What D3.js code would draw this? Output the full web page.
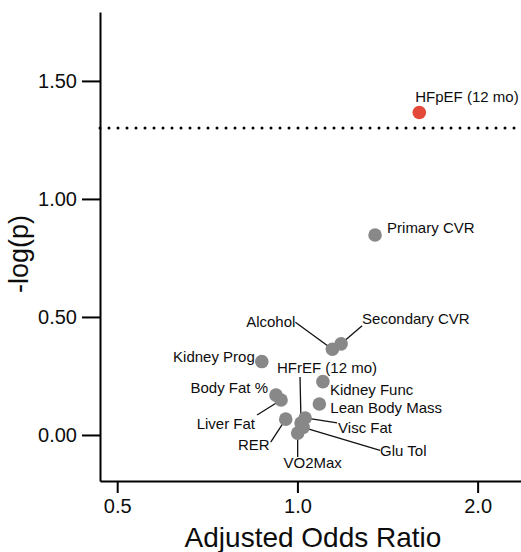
<!DOCTYPE html>
<html>
<head>
<meta charset="utf-8">
<script src="https://cdn.jsdelivr.net/npm/d3@7"></script>
<style>
  body { margin: 0; background: #fff; }
  svg { display: block; font-family: "Liberation Sans", Arial, Helvetica, sans-serif; }
</style>
</head>
<body>
<div id="chart"></div>
<script>
// outcomes, adjusted odds ratio and -log10(p)
const outcomes = ["HFpEF (12 mo)", "Primary CVR", "Secondary CVR", "Alcohol", "Kidney Prog",
    "HFrEF (12 mo)", "Kidney Func", "Lean Body Mass", "Body Fat %", "Liver Fat", "RER",
    "Visc Fat", "Glu Tol", "VO2Max"];
const oddsRatios = [1.598, 1.348, 1.183, 1.144, 0.872, 1.014, 1.103, 1.088, 0.921, 0.939, 0.956,
    1.030, 1.022, 1.001];
const negLogP = [1.366, 0.847, 0.386, 0.363, 0.311, 0.051, 0.226, 0.131, 0.169, 0.148, 0.067,
    0.072, 0.032, 0.008];
const significant = [true, false, false, false, false, false, false, false, false, false, false,
    false, false, false];

const xTicks = [0.5, 1.0, 2.0];
const yTicks = [0, 0.5, 1.0, 1.5];
const threshold = -Math.log10(0.05);

// label placement (pixel offsets from the dot), segment start offsets
const labelLayout = [
    { dx: -4, dy: -11, anchor: "start" },
    { dx: 12, dy: -2, anchor: "start" },
    { dx: 21, dy: -20, anchor: "start", sx: 21, sy: -18 },
    { dx: -37, dy: -22, anchor: "end", sx: -37, sy: -27 },
    { dx: -7, dy: 0, anchor: "end" },
    { dx: -24, dy: -50, anchor: "start", sx: -1, sy: -46 },
    { dx: 7, dy: 13, anchor: "start" },
    { dx: 11, dy: 9, anchor: "start" },
    { dx: -8, dy: -2, anchor: "end" },
    { dx: -26, dy: 29, anchor: "end", sx: -24, sy: 15 },
    { dx: -16, dy: 31, anchor: "end", sx: -15, sy: 23 },
    { dx: 33, dy: 15, anchor: "start", sx: 32, sy: 5 },
    { dx: 77, dy: 29, anchor: "start", sx: 77, sy: 23 },
    { dx: 15, dy: 35, anchor: "middle", sx: 0, sy: 24 }
];

const data = outcomes.map((name, i) => ({
    name: name,
    or: oddsRatios[i],
    p: negLogP[i],
    sig: significant[i],
    lab: labelLayout[i]
}));

const margin = { top: 12, right: 0, bottom: 71, left: 100 };
const width = 521 - margin.left - margin.right;
const height = 552 - margin.top - margin.bottom;

const svg = d3.select("#chart").append("svg")
    .attr("width", width + margin.left + margin.right)
    .attr("height", height + margin.top + margin.bottom)
    .append("g")
    .attr("transform", `translate(${margin.left},${margin.top})`);

const x = d3.scaleLog()
    .base(2)
    .domain([0.468, 2.363])
    .range([0, width]);

const y = d3.scaleLinear()
    .domain([-0.195, 1.792])
    .range([height, 0]);

// significance threshold
svg.append("line")
    .attr("x1", 0)
    .attr("x2", width)
    .attr("y1", y(threshold))
    .attr("y2", y(threshold))
    .attr("stroke", "#000")
    .attr("stroke-width", 3)
    .attr("stroke-linecap", "round")
    .attr("stroke-dasharray", "0 9");

// connector segments, under the dots
svg.selectAll("line.seg")
    .data(data.filter(d => d.lab.sx !== undefined))
    .enter()
    .append("line")
    .attr("class", "seg")
    .attr("x1", d => x(d.or) + d.lab.sx)
    .attr("y1", d => y(d.p) + d.lab.sy)
    .attr("x2", d => x(d.or))
    .attr("y2", d => y(d.p))
    .attr("stroke", "#111")
    .attr("stroke-width", 1.3);

svg.selectAll("circle")
    .data(data)
    .enter()
    .append("circle")
    .attr("cx", d => x(d.or))
    .attr("cy", d => y(d.p))
    .attr("r", 6.8)
    .attr("fill", d => d.sig ? "#e4493a" : "#888888");

svg.selectAll("text.lab")
    .data(data)
    .enter()
    .append("text")
    .attr("class", "lab")
    .attr("x", d => x(d.or) + d.lab.dx)
    .attr("y", d => y(d.p) + d.lab.dy)
    .attr("text-anchor", d => d.lab.anchor)
    .style("font-size", "15px")
    .style("fill", "#0d0d0d")
    .text(d => d.name);

// axes
const xAxis = svg.append("g")
    .attr("transform", `translate(0,${height})`)
    .call(d3.axisBottom(x).tickValues(xTicks).tickFormat(d3.format(".1f"))
        .tickSizeOuter(0).tickSizeInner(12).tickPadding(6));

const yAxis = svg.append("g")
    .call(d3.axisLeft(y).tickValues(yTicks).tickFormat(d3.format(".2f"))
        .tickSizeOuter(0).tickSizeInner(18).tickPadding(5));

[xAxis, yAxis].forEach(g => {
    g.select(".domain").attr("stroke", "#000").attr("stroke-width", 2);
    g.selectAll(".tick line").attr("stroke", "#000").attr("stroke-width", 2);
    g.selectAll(".tick text").attr("fill", "#0d0d0d").style("font-family", "inherit");
});
xAxis.selectAll(".tick text").style("font-size", "20px");
yAxis.selectAll(".tick text").style("font-size", "20px");

svg.append("text")
    .attr("x", 213)
    .attr("y", height + 66)
    .attr("text-anchor", "middle")
    .style("font-size", "28px")
    .style("fill", "#0d0d0d")
    .text("Adjusted Odds Ratio");

svg.append("text")
    .attr("transform", "rotate(-90)")
    .attr("x", -(254 - margin.top))
    .attr("y", 28 - margin.left)
    .attr("text-anchor", "middle")
    .style("font-size", "27px")
    .style("fill", "#0d0d0d")
    .text("-log(p)");
</script>
</body>
</html>
